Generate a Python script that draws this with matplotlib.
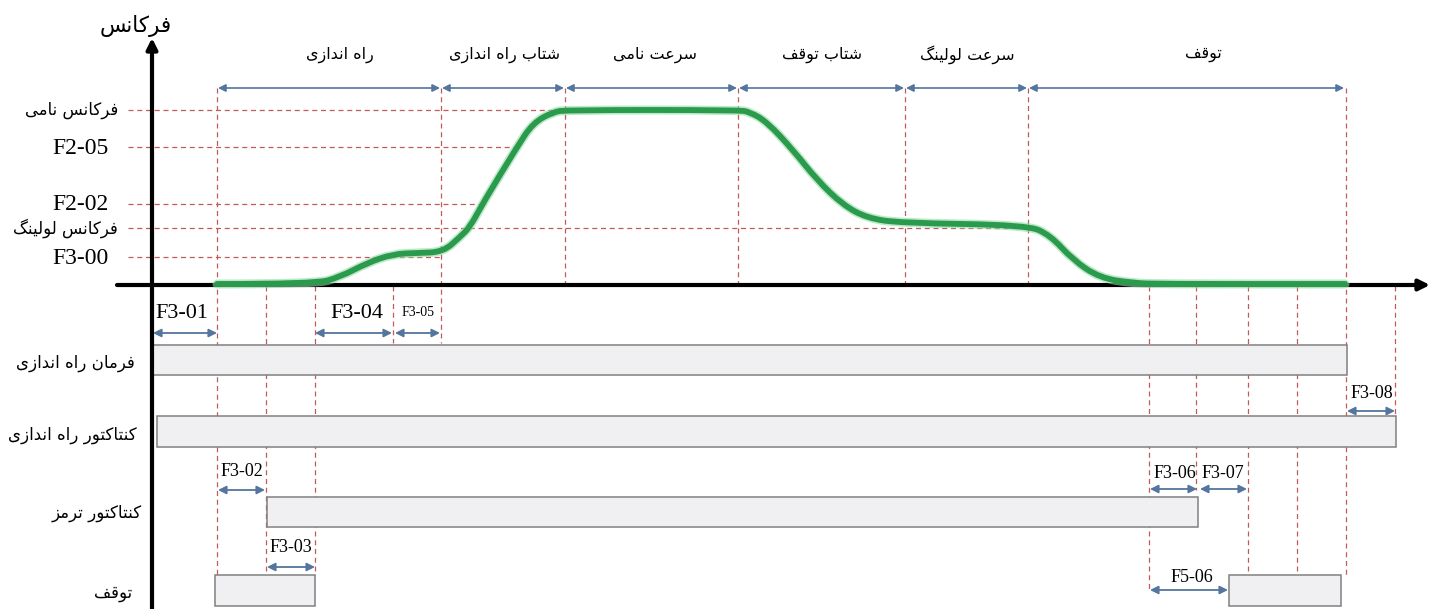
import matplotlib
matplotlib.use("Agg")
import matplotlib.pyplot as plt
from matplotlib.path import Path
from matplotlib.patches import PathPatch

W, H = 1437, 609

# --- Persian shaping (matplotlib has no contextual shaping / bidi) -------------
RIGHT_JOIN = set("اآدذرزژو")
FORMS = {
    "ا": ("\uFE8D", "\uFE8E", None, None),
    "ب": ("\uFE8F", "\uFE90", "\uFE91", "\uFE92"),
    "ت": ("\uFE95", "\uFE96", "\uFE97", "\uFE98"),
    "د": ("\uFEA9", "\uFEAA", None, None),
    "ر": ("\uFEAD", "\uFEAE", None, None),
    "ز": ("\uFEAF", "\uFEB0", None, None),
    "س": ("\uFEB1", "\uFEB2", "\uFEB3", "\uFEB4"),
    "ش": ("\uFEB5", "\uFEB6", "\uFEB7", "\uFEB8"),
    "ع": ("\uFEC9", "\uFECA", "\uFECB", "\uFECC"),
    "ف": ("\uFED1", "\uFED2", "\uFED3", "\uFED4"),
    "ق": ("\uFED5", "\uFED6", "\uFED7", "\uFED8"),
    "ل": ("\uFEDD", "\uFEDE", "\uFEDF", "\uFEE0"),
    "م": ("\uFEE1", "\uFEE2", "\uFEE3", "\uFEE4"),
    "ن": ("\uFEE5", "\uFEE6", "\uFEE7", "\uFEE8"),
    "ه": ("\uFEE9", "\uFEEA", "\uFEEB", "\uFEEC"),
    "و": ("\uFEED", "\uFEEE", None, None),
    "ک": ("\uFB8E", "\uFB8F", "\uFB90", "\uFB91"),
    "گ": ("\uFB92", "\uFB93", "\uFB94", "\uFB95"),
    "ی": ("\uFBFC", "\uFBFD", "\uFBFE", "\uFBFF"),
}


def fa(s):
    out = []
    for i, c in enumerate(s):
        if c not in FORMS:
            out.append(c)
            continue
        prev = s[i - 1] if i > 0 else ""
        nxt = s[i + 1] if i + 1 < len(s) else ""
        p = prev in FORMS and prev not in RIGHT_JOIN
        n = c not in RIGHT_JOIN and nxt in FORMS
        iso, fin, ini, med = FORMS[c]
        out.append(med if p and n else fin if p else ini if n else iso)
    return "".join(reversed(out))


# --- diagram data (pixel-like time / level units) ------------------------------
axis_title = "فرکانس"
level_y = [110, 147, 204, 228, 257]
level_labels = ["فرکانس نامی", "F2-05", "F2-02", "فرکانس لولینگ", "F3-00"]
level_end = [565, 517, 482, 1028, 443]

phase_edges = [217, 441, 565, 738, 905, 1028, 1345]
phase_labels = ["راه اندازی", "شتاب راه اندازی", "سرعت نامی", "شتاب توقف",
                "سرعت لولینگ", "توقف"]
phase_label_x = [340, 505, 655, 822, 967, 1203]

curve_t = [217, 315, 340, 367, 393, 417, 443, 460, 470, 483, 517, 533, 553, 567,
           738, 750, 767, 793, 817, 843, 867, 900, 1027, 1050, 1073, 1100, 1133,
           1160, 1345]
curve_f = [284, 284, 277, 263, 254, 253, 252, 237, 227, 203, 147, 123, 112, 110,
           110, 112, 122, 150, 180, 205, 218, 223, 225, 235, 260, 278, 283,
           284, 284]

# vertical markers: time, top, bottom
mark_t = [217, 266, 315, 393, 441, 565, 738, 905, 1028, 1149, 1196, 1248, 1297, 1346, 1395]
mark_top = [88, 286, 286, 286, 88, 88, 88, 88, 88, 286, 286, 286, 286, 88, 286]
mark_bot = [575, 575, 575, 343, 343, 286, 286, 286, 286, 590, 490, 575, 573, 575, 416]

row_labels = ["فرمان راه اندازی", "کنتاکتور راه اندازی", "کنتاکتور ترمز", "توقف"]
row_label_y = [363, 435, 513, 593]
row_label_x = [135, 137, 142, 132]

# bars: start, end, top, bottom
bar_start = [153, 157, 267, 215, 1229]
bar_end = [1347, 1396, 1198, 315, 1341]
bar_top = [345, 416, 497, 575, 575]
bar_bot = [375, 447, 527, 606, 606]

# timing arrows: start, end, level, label, label x, label y, size
t_start = [153, 315, 395, 218, 267, 1150, 1200, 1347, 1150]
t_end = [217, 392, 440, 265, 315, 1197, 1247, 1395, 1228]
t_y = [333, 333, 333, 490, 567, 489, 489, 411, 590]
t_label = ["F3-01", "F3-04", "F3-05", "F3-02", "F3-03", "F3-06", "F3-07", "F3-08", "F5-06"]
t_label_x = [182, 357, 418, 242, 291, 1175, 1223, 1372, 1192]
t_label_y = [313, 313, 313, 472, 548, 473, 473, 393, 578]
t_size = [16, 16, 10, 13, 13, 13, 13, 13, 13]

RED = "#c25a5a"
BLUE = "#54759d"
GREEN = "#2b9a4c"
FA_FONT = ["DejaVu Sans"]
EN_FONT = ["Liberation Serif", "DejaVu Serif"]

fig = plt.figure(figsize=(W / 100, H / 100), dpi=100)
ax = fig.add_axes([0, 0, 1, 1])
ax.set_xlim(0, W)
ax.set_ylim(H, 0)
ax.axis("off")

# reference levels
for y, end in zip(level_y, level_end):
    ax.plot([128, end], [y, y], color=RED, lw=0.9, ls=(0, (4, 3)), zorder=1)
for lab, y in zip(level_labels, level_y):
    if lab.startswith("F"):
        ax.text(109, y + 1, lab, ha="right", va="center", fontsize=17, family=EN_FONT)
    else:
        ax.text(118, y, fa(lab), ha="right", va="center", fontsize=12, family=FA_FONT)

# vertical markers
for t, a, b in zip(mark_t, mark_top, mark_bot):
    ax.plot([t, t], [a, b], color=RED, lw=0.9, ls=(0, (4, 3)), zorder=1)

# phase arrows
for a, b in zip(phase_edges[:-1], phase_edges[1:]):
    ax.annotate("", xy=(b - 1, 88), xytext=(a + 1, 88),
                arrowprops=dict(arrowstyle="<|-|>", color=BLUE, lw=1.2,
                                mutation_scale=11, shrinkA=0, shrinkB=0), zorder=3)
for lab, x in zip(phase_labels, phase_label_x):
    ax.text(x, 55, fa(lab), ha="center", va="center", fontsize=11.5, family=FA_FONT)

# axes with arrowheads
ax.annotate("", xy=(152, 38), xytext=(152, H),
            arrowprops=dict(arrowstyle="-|>", color="black", lw=3,
                            mutation_scale=16, shrinkA=0, shrinkB=0), zorder=4)
ax.annotate("", xy=(1430, 285), xytext=(117, 285),
            arrowprops=dict(arrowstyle="-|>", color="black", lw=3,
                            mutation_scale=16, shrinkA=0, shrinkB=0), zorder=4)
ax.text(136, 26, fa(axis_title), ha="center", va="center", fontsize=15.5, family=FA_FONT)

# frequency profile: smooth quadratic path through the read points
pts = list(zip(curve_t, curve_f))
verts, codes = [pts[0]], [Path.MOVETO]
for i in range(1, len(pts) - 1):
    mid = ((pts[i][0] + pts[i + 1][0]) / 2, (pts[i][1] + pts[i + 1][1]) / 2)
    verts += [pts[i], mid]
    codes += [Path.CURVE3, Path.CURVE3]
verts.append(pts[-1])
codes.append(Path.LINETO)
profile = Path(verts, codes)
ax.add_patch(PathPatch(profile, facecolor="none", edgecolor="#8fdca6", lw=6.5,
                       alpha=0.6, capstyle="round", joinstyle="round", zorder=5))
ax.add_patch(PathPatch(profile, facecolor="none", edgecolor=GREEN, lw=4.2,
                       capstyle="round", joinstyle="round", zorder=6))

# signal bars
for x0, x1, y0, y1 in zip(bar_start, bar_end, bar_top, bar_bot):
    ax.add_patch(plt.Rectangle((x0, y0), x1 - x0, y1 - y0, facecolor="#f0f0f2",
                               edgecolor="#808080", lw=1.1, zorder=3))
for lab, x, y in zip(row_labels, row_label_x, row_label_y):
    ax.text(x, y, fa(lab), ha="right", va="center", fontsize=12, family=FA_FONT)

# timing parameters
for a, b, y, lab, lx, ly, fs in zip(t_start, t_end, t_y, t_label, t_label_x, t_label_y, t_size):
    ax.annotate("", xy=(b, y), xytext=(a, y),
                arrowprops=dict(arrowstyle="<|-|>", color=BLUE, lw=1.3,
                                mutation_scale=12, shrinkA=0, shrinkB=0), zorder=4)
    ax.text(lx, ly, lab, ha="center", va="center", fontsize=fs, family=EN_FONT, zorder=5)

fig.savefig("out.png", dpi=100)
